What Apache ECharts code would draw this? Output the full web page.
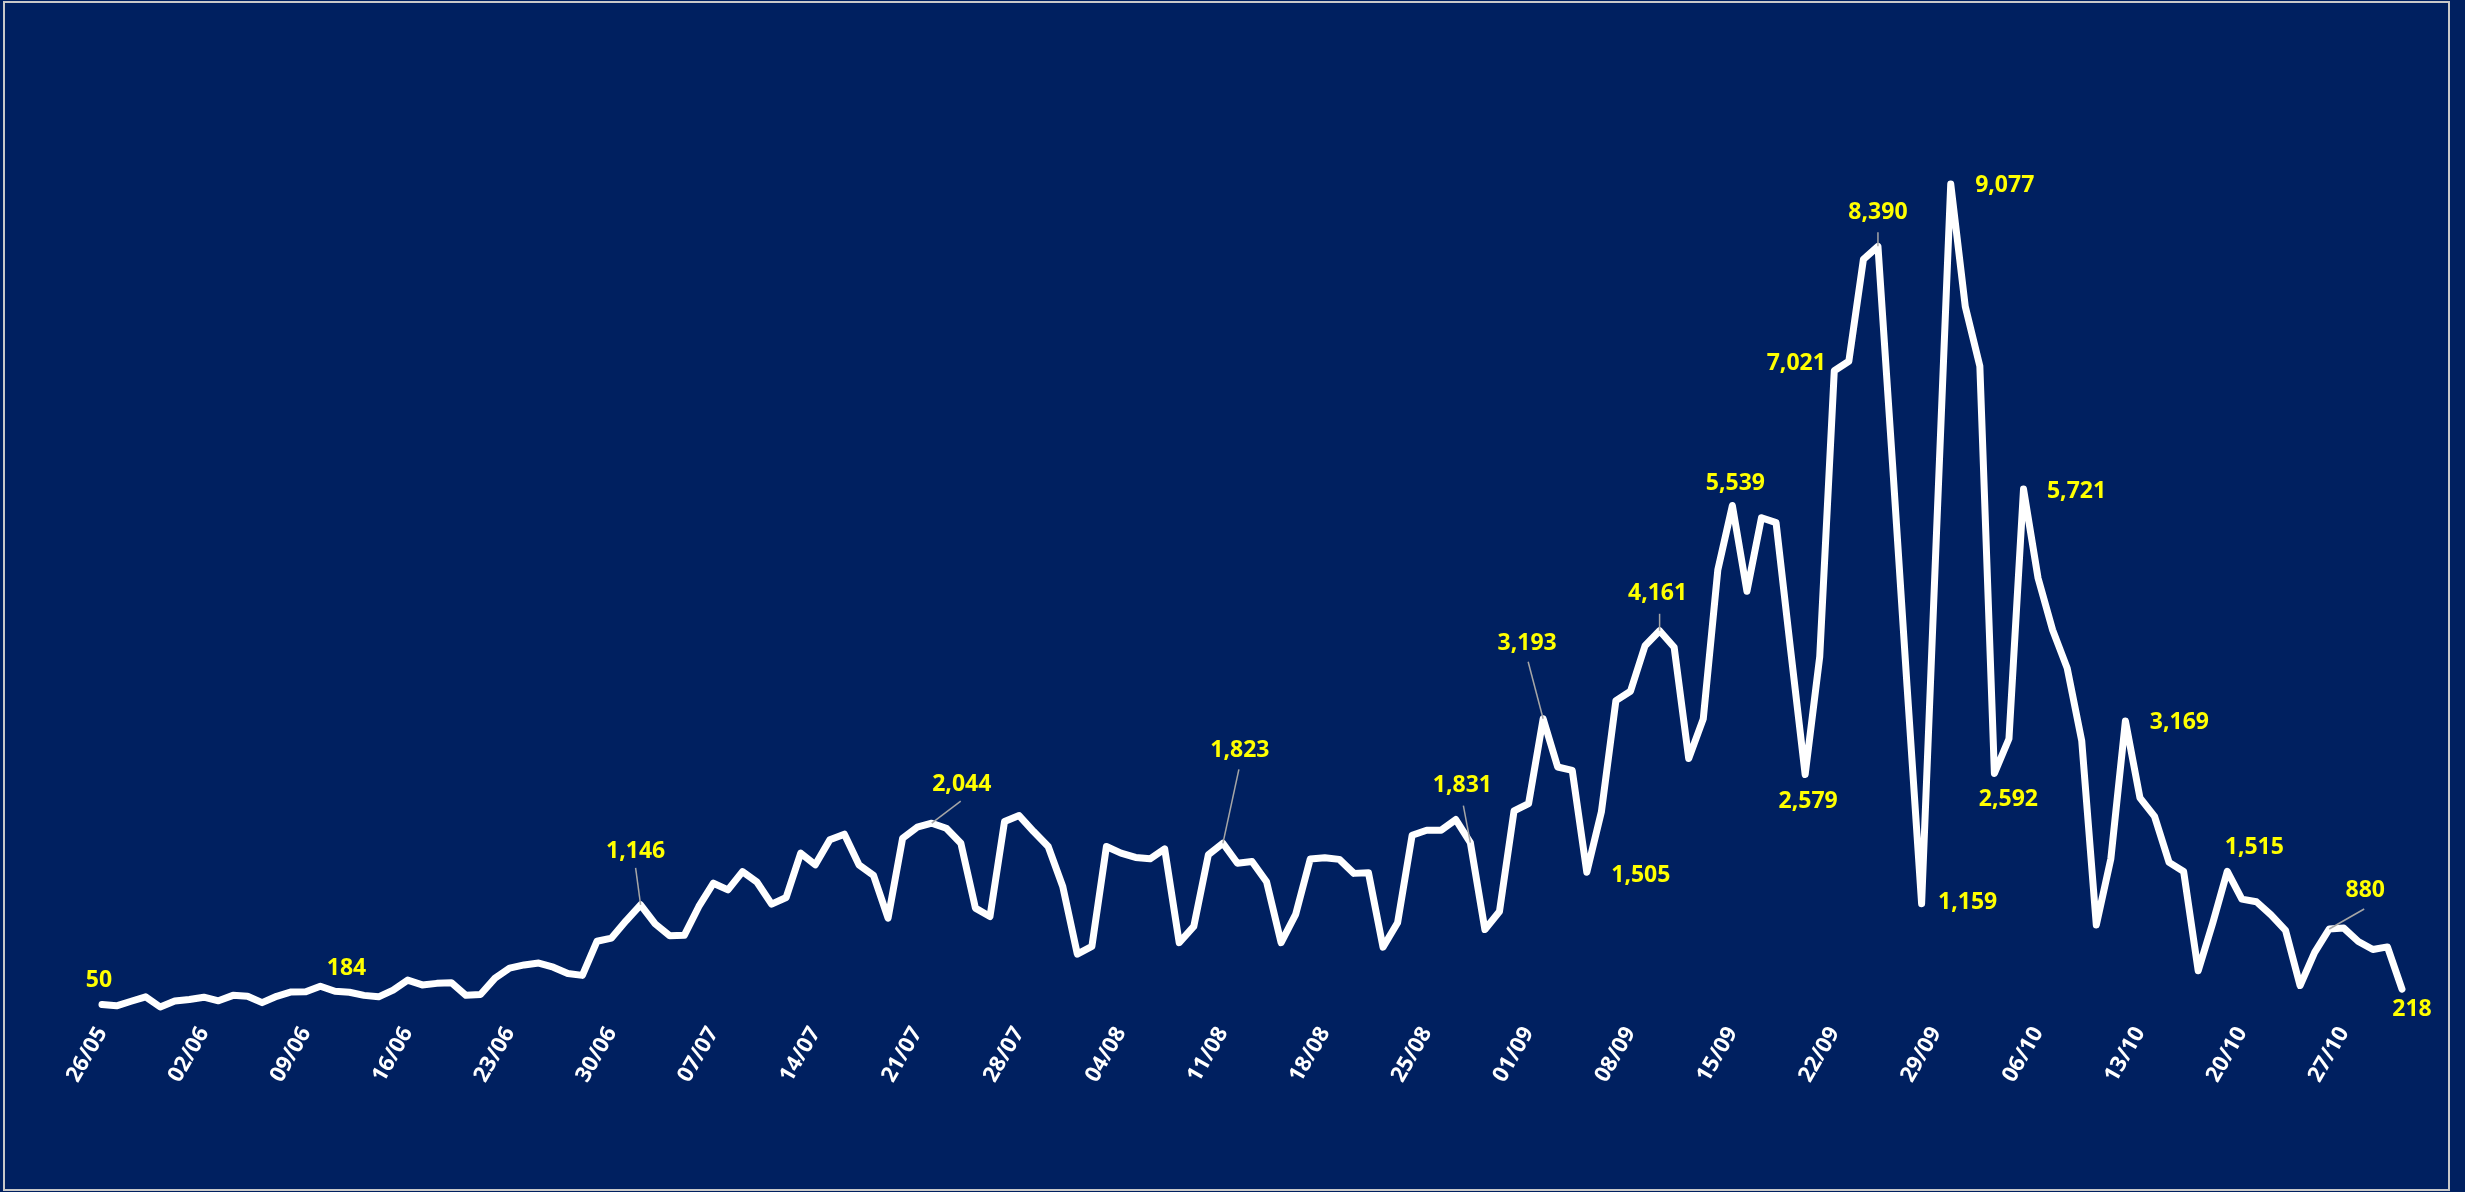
<!DOCTYPE html>
<html>
<head>
<meta charset="utf-8">
<script src="https://cdn.jsdelivr.net/npm/echarts@6/dist/echarts.min.js"></script>
<style>
  html, body { margin: 0; padding: 0; background: #002060; }
  #chart { width: 2465px; height: 1192px; }
</style>
</head>
<body>
<div id="chart"></div>
<script>
// Daily counts, 26/05 to 31/10
const monthSpans = [[5, 26, 31], [6, 1, 30], [7, 1, 31], [8, 1, 31], [9, 1, 30], [10, 1, 31]];
const categories = [];
monthSpans.forEach(([m, d0, d1]) => {
  for (let d = d0; d <= d1; d++) {
    categories.push(String(d).padStart(2, '0') + '/' + String(m).padStart(2, '0'));
  }
});

const values = [
  50, 35, 85, 134, 22, 87, 105, 130, 90, 150,
  140, 70, 140, 188, 190, 250, 195, 184, 150, 134,
  208, 318, 265, 282, 290, 150, 160, 340, 450, 485,
  505, 460, 390, 370, 745, 780, 970, 1146, 937, 805,
  810, 1128, 1384, 1311, 1512, 1395, 1153, 1227, 1714, 1586,
  1861, 1923, 1586, 1470, 1000, 1879, 2000, 2044, 1989, 1824,
  1110, 1018, 2062, 2128, 1952, 1788, 1348, 604, 688, 1788,
  1714, 1667, 1652, 1762, 730, 908, 1696, 1823, 1604, 1623,
  1400, 730, 1040, 1650, 1664, 1646, 1492, 1499, 680, 948,
  1912, 1967, 1967, 2084, 1831, 874, 1072, 2179, 2260, 3193,
  2662, 2625, 1505, 2168, 3393, 3496, 3996, 4161, 3980, 2755,
  3192, 4831, 5539, 4596, 5405, 5350, 3950, 2579, 3875, 7021,
  7126, 8246, 8390, 6000, 3550, 1159, 5150, 9077, 7727, 7072,
  2592, 2973, 5721, 4740, 4170, 3750, 2949, 925, 1654, 3169,
  2322, 2119, 1613, 1512, 420, 946, 1515, 1209, 1180, 1035,
  865, 258, 622, 880, 890, 743, 654, 683, 218
];

// Days whose value is printed next to the line
const labelledDays = [0, 17, 37, 57, 77, 94, 99, 102, 107, 112, 117, 119, 122, 125, 127, 130, 132, 139, 146, 153, 158];

// Label placement relative to its point: [dx, dy] of the text centre, optional leader end
const labelPlacement = {
  0: { text: [-3, -24] },
  17: { text: [-3, -24] },
  37: { text: [-5, -53], leader: [-5, -37] },
  57: { text: [30, -39], leader: [29, -22] },
  77: { text: [17, -93], leader: [16, -74] },
  94: { text: [-8, -57], leader: [-7, -37] },
  99: { text: [-16, -75], leader: [-15, -57] },
  102: { text: [54, 3] },
  107: { text: [-2, -37], leader: [0, -17] },
  112: { text: [3, -22] },
  117: { text: [3, 27] },
  119: { text: [-38, -7] },
  122: { text: [0, -34], leader: [0, -14] },
  125: { text: [46, -1] },
  127: { text: [54, 2] },
  130: { text: [14, 26] },
  132: { text: [53, 2] },
  139: { text: [54, 2] },
  146: { text: [27, -24] },
  153: { text: [36, -39], leader: [35, -20] },
  158: { text: [10, 20] }
};

const fontFamily = '"Open Sans", "Noto Sans", sans-serif';

const chart = echarts.init(document.getElementById('chart'), null, { renderer: 'canvas' });

chart.setOption({
  backgroundColor: '#002060',
  animation: false,
  grid: { left: 102, right: 63, top: 100, bottom: 183, containLabel: false },
  xAxis: {
    type: 'category',
    data: categories,
    boundaryGap: false,
    axisLine: { show: false },
    axisTick: { show: false },
    splitLine: { show: false },
    axisLabel: {
      interval: 6,
      rotate: 60,
      margin: 20,
      color: '#ffffff',
      fontWeight: 'bold',
      fontSize: 22,
      fontFamily: fontFamily
    }
  },
  yAxis: {
    type: 'value',
    min: 0,
    max: 10000,
    show: false,
    splitLine: { show: false }
  },
  graphic: [{
    type: 'rect',
    shape: { x: 4, y: 2, width: 2445, height: 1188 },
    style: { fill: 'none', stroke: '#c8c8c8', lineWidth: 2 },
    silent: true,
    z: 100
  }],
  series: [
    {
      type: 'line',
      data: values,
      showSymbol: false,
      lineStyle: { color: '#ffffff', width: 7, join: 'round', cap: 'round' },
      z: 2
    },
    {
      type: 'custom',
      coordinateSystem: 'cartesian2d',
      data: labelledDays.map(i => [i, values[i]]),
      z: 3,
      renderItem: function (params, api) {
        const idx = api.value(0);
        const val = api.value(1);
        const p = api.coord([idx, val]);
        const place = labelPlacement[idx];
        const children = [];
        if (place.leader) {
          children.push({
            type: 'line',
            shape: { x1: p[0], y1: p[1], x2: p[0] + place.leader[0], y2: p[1] + place.leader[1] },
            style: { stroke: '#a6a6a6', lineWidth: 1.5 }
          });
        }
        children.push({
          type: 'text',
          x: p[0] + place.text[0],
          y: p[1] + place.text[1],
          style: {
            text: val.toLocaleString('en-US'),
            fill: '#ffff00',
            font: 'bold 23px ' + fontFamily,
            align: 'center',
            verticalAlign: 'middle'
          }
        });
        return { type: 'group', children: children };
      }
    }
  ]
});
</script>
</body>
</html>
